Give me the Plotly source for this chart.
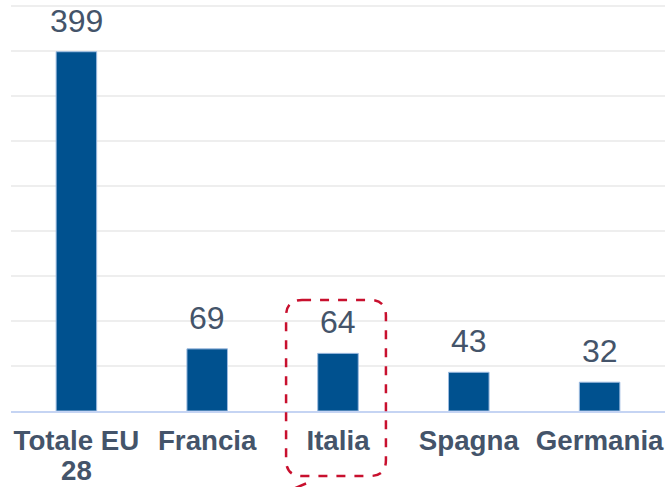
import plotly.graph_objects as go

categories = ["Totale EU 28", "Francia", "Italia", "Spagna", "Germania"]
tick_labels = ["Totale EU", "Francia", "Italia", "Spagna", "Germania"]
first_label_line2 = "28"
values = [399, 69, 64, 43, 32]
value_labels = ["399", "69", "64", "43", "32"]

W, H = 666, 487
L, R, T, B = 10.5, 0.5, 4, 76
pw, ph = W - L - R, H - T - B

def px(x):
    return (x - L) / pw

def py(y):
    return (H - B - y) / ph

FONT = "Liberation Sans, Arial"
TXT = "#44546a"

fig = go.Figure()
fig.add_trace(go.Bar(
    x=categories, y=values,
    marker=dict(color="#00518f", line=dict(color="#9dbbe0", width=1)),
    width=0.31,
    hoverinfo="skip",
))

for c, v, t in zip(categories, values, value_labels):
    fig.add_annotation(x=c, y=v, text=t, showarrow=False, yanchor="bottom",
                       yshift=11, font=dict(family=FONT, size=32, color=TXT))

# second line of the first category label
fig.add_annotation(x=categories[0], y=py(487), yref="paper", text=f"<b>{first_label_line2}</b>",
                   showarrow=False, yanchor="bottom", yshift=0, borderpad=0,
                   font=dict(family=FONT, size=27.7, color=TXT))

# dashed rounded box around Italia
x0, x1, y0, y1, r = px(286), px(386), py(300), py(476), 16
rx, ry = r / pw, r / ph
path = (f"M {x0+rx},{y0} L {x1-rx},{y0} Q {x1},{y0} {x1},{y0-ry} "
        f"L {x1},{y1+ry} Q {x1},{y1} {x1-rx},{y1} L {x0+rx},{y1} Q {x0},{y1} {x0},{y1+ry} "
        f"L {x0},{y0-ry} Q {x0},{y0} {x0+rx},{y0} Z")
fig.add_shape(type="path", path=path, xref="paper", yref="paper",
              line=dict(color="#c8102e", width=2.5, dash="dash"), layer="above")
fig.add_shape(type="line", xref="paper", yref="paper",
              x0=px(293), y0=py(489), x1=px(306), y1=py(483.5),
              line=dict(color="#c8102e", width=2.5))

fig.update_layout(
    width=W, height=H,
    margin=dict(l=L, r=R, t=T, b=B),
    plot_bgcolor="white", paper_bgcolor="white",
    showlegend=False,
    font=dict(family=FONT, color=TXT),
)
fig.update_xaxes(
    tickmode="array", tickvals=categories, ticktext=tick_labels,
    tickfont=dict(family=FONT, size=27.7, color=TXT, weight="bold"),
    showline=True, linecolor="#c5d4f3", linewidth=2,
    ticks="", showgrid=False, automargin=False, ticklabelstandoff=4,
)
fig.update_yaxes(
    range=[0, 452], tickvals=[50, 100, 150, 200, 250, 300, 350, 400, 450],
    showgrid=True, gridcolor="#eeeeee", gridwidth=2,
    showticklabels=False, zeroline=False, ticks="", automargin=False,
)

fig.write_html("out.html", config={"displayModeBar": False},
               post_script="document.body.style.margin='0';document.body.style.overflow='hidden';")
